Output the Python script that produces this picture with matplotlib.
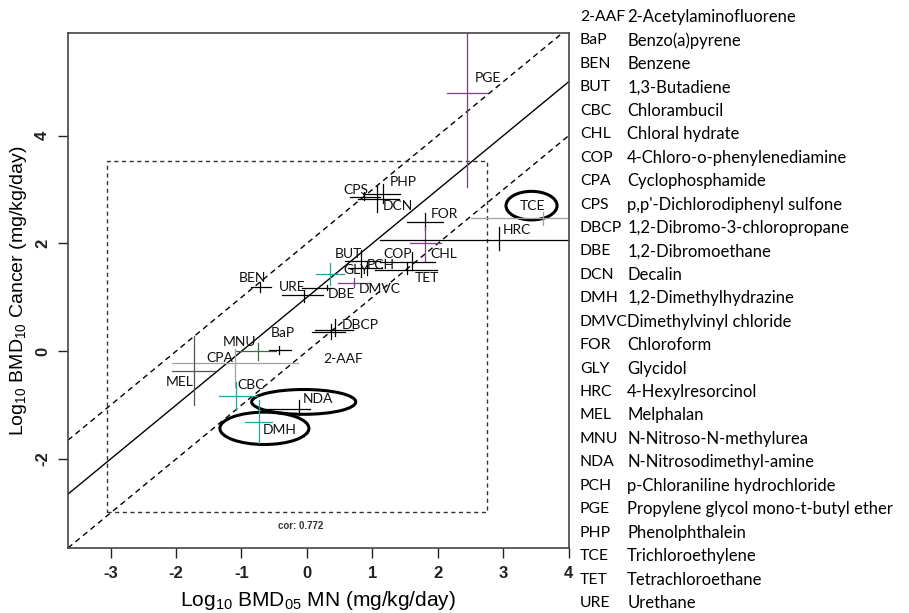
import numpy as np
import matplotlib
matplotlib.use("Agg")
import matplotlib.pyplot as plt
from matplotlib.patches import Ellipse

plt.rcParams['mathtext.fontset'] = 'custom'
plt.rcParams['mathtext.rm'] = 'Liberation Sans'
plt.rcParams['mathtext.it'] = 'Liberation Sans:italic'

# chemicals: centre, then lower/upper bounds on each axis (log10 mg/kg/day)
abbr = ["PGE", "CPS", "PHP", "DCN", "FOR", "CHL", "HRC", "TCE", "COP", "TET",
        "BUT", "PCH", "GLY", "DMVC", "BEN", "URE", "DBE", "DBCP", "2-AAF",
        "MNU", "BaP", "CPA", "MEL", "CBC", "NDA", "DMH"]
mn = [2.45, 0.87, 1.16, 1.07, 1.80, 1.81, 2.93, 3.61, 1.61, 1.53,
      0.83, 0.92, 0.35, 0.72, -0.71, -0.05, 0.30, 0.43, 0.36,
      -0.75, -0.42, -1.10, -1.73, -1.09, -0.12, -0.74]
mn_lo = [2.14, 0.66, 0.85, 0.78, 1.53, 1.58, 1.12, 2.50, 1.12, 1.04,
         0.58, 0.62, 0.14, 0.48, -0.86, -0.38, -0.08, 0.12, 0.08,
         -1.08, -0.58, -2.06, -2.06, -1.35, -0.75, -0.94]
mn_hi = [2.75, 1.12, 1.42, 1.40, 2.08, 2.04, 4.50, 4.50, 1.96, 1.98,
         1.12, 1.15, 0.56, 0.97, -0.55, 0.25, 0.40, 0.70, 0.58,
         -0.48, -0.24, -0.14, -1.40, -0.76, 0.05, -0.53]
cancer = [4.79, 2.86, 2.92, 2.82, 2.39, 2.00, 2.06, 2.47, 1.65, 1.51,
          1.67, 1.55, 1.43, 1.26, 1.19, 1.04, 1.18, 0.39, 0.35,
          0.00, 0.03, -0.21, -0.37, -0.83, -1.07, -1.32]
cancer_lo = [3.04, 2.80, 2.75, 2.58, 2.24, 1.68, 1.87, 2.35, 1.50, 1.44,
             1.38, 1.42, 1.22, 1.19, 1.10, 0.91, 1.13, 0.28, 0.22,
             -0.17, -0.05, -0.67, -1.00, -1.09, -1.19, -1.70]
cancer_hi = [6.60, 2.95, 3.11, 3.07, 2.56, 2.30, 2.30, 2.58, 1.84, 1.63,
             1.87, 1.68, 1.64, 1.35, 1.28, 1.13, 1.23, 0.60, 0.50,
             0.15, 0.10, 0.05, 0.28, -0.57, -0.91, -0.91]
correlation = 0.772

legend_abbr = ["2-AAF", "BaP", "BEN", "BUT", "CBC", "CHL", "COP", "CPA", "CPS",
               "DBCP", "DBE", "DCN", "DMH", "DMVC", "FOR", "GLY", "HRC", "MEL",
               "MNU", "NDA", "PCH", "PGE", "PHP", "TCE", "TET", "URE"]
legend_name = ["2-Acetylaminofluorene", "Benzo(a)pyrene", "Benzene", "1,3-Butadiene",
               "Chlorambucil", "Chloral hydrate", "4-Chloro-o-phenylenediamine",
               "Cyclophosphamide", "p,p'-Dichlorodiphenyl sulfone",
               "1,2-Dibromo-3-chloropropane", "1,2-Dibromoethane", "Decalin",
               "1,2-Dimethylhydrazine", "Dimethylvinyl chloride", "Chloroform",
               "Glycidol", "4-Hexylresorcinol", "Melphalan", "N-Nitroso-N-methylurea",
               "N-Nitrosodimethyl-amine", "p-Chloraniline hydrochloride",
               "Propylene glycol mono-t-butyl ether", "Phenolphthalein",
               "Trichloroethylene", "Tetrachloroethane", "Urethane"]

# styling / placement (not data)
purple, teal, grey, green = "#7a3f86", "#1fa5a5", "#a3a3a3", "#3d6b45"
cross_color = {"PGE": purple, "CHL": purple, "DMVC": purple, "GLY": teal,
               "CBC": teal, "DMH": teal, "TCE": grey, "CPA": grey,
               "MNU": green, "MEL": "#555555"}
label_pos = {"PGE": (2.57, 5.07), "CPS": (0.55, 2.99), "PHP": (1.27, 3.14),
             "DCN": (1.16, 2.70), "FOR": (1.89, 2.55), "TCE": (3.25, 2.70),
             "HRC": (2.99, 2.24), "CHL": (1.89, 1.80), "COP": (1.16, 1.80),
             "BUT": (0.42, 1.80), "PCH": (0.91, 1.59), "GLY": (0.55, 1.50),
             "TET": (1.64, 1.36), "BEN": (-1.04, 1.36), "URE": (-0.43, 1.20),
             "DBE": (0.31, 1.06), "DMVC": (0.79, 1.16), "DBCP": (0.53, 0.48),
             "BaP": (-0.56, 0.33), "MNU": (-1.28, 0.17), "CPA": (-1.54, -0.12),
             "2-AAF": (0.25, -0.15), "MEL": (-2.15, -0.57), "CBC": (-1.07, -0.63),
             "NDA": (-0.07, -0.88), "DMH": (-0.68, -1.46)}
# highlighted chemicals: centre x, centre y, width, height
rings = [(3.43, 2.70, 0.78, 0.53), (-0.05, -0.94, 1.59, 0.46), (-0.65, -1.43, 1.36, 0.60)]

fig = plt.figure(figsize=(9.09, 6.13), dpi=100)
ax = fig.add_axes([0.0748, 0.106, 0.551, 0.840])
xlim = (-3.65, 4.0)
ylim = (-3.65, 5.9)
ax.set_xlim(xlim)
ax.set_ylim(ylim)

xs = np.array(xlim)
ax.plot(xs, xs + 1, color="black", lw=1.0)
ax.plot(xs, xs + 2, color="black", lw=1.0, ls=(0, (4, 3)))
ax.plot(xs, xs, color="black", lw=1.0, ls=(0, (4, 3)))

# dashed box around the observed data range
ax.plot([-3.05, 2.75, 2.75, -3.05, -3.05], [-2.98, -2.98, 3.52, 3.52, -2.98],
        color="#333333", lw=1.0, ls=(0, (3, 2.5)))
ax.text(-0.1, -3.25, "cor: %.3f" % correlation, ha="center", va="center",
        fontsize=7, fontweight="bold", color="#333333", family="Liberation Sans")

for i, name in enumerate(abbr):
    c = cross_color.get(name, "black")
    ax.plot([mn_lo[i], mn_hi[i]], [cancer[i], cancer[i]], color=c, lw=0.9)
    ax.plot([mn[i], mn[i]], [cancer_lo[i], cancer_hi[i]], color=c, lw=0.9)
    lx, ly = label_pos[name]
    ax.text(lx, ly, name, ha="left", va="center", fontsize=10, family="Lato",
            color="#111111")

for cx, cy, w, h in rings:
    ax.add_patch(Ellipse((cx, cy), w, h, fill=False, ec="black", lw=2.2))

ax.set_xticks(range(-3, 5))
ax.set_yticks([-2, 0, 2, 4])
ax.set_xticklabels([str(v) for v in range(-3, 5)], family="Liberation Sans",
                   fontsize=12, fontweight="bold")
ax.set_yticklabels(["-2", "0", "2", "4"], family="Liberation Sans", fontsize=12,
                   fontweight="bold", rotation=90, va="center")
ax.tick_params(direction="out", length=7, width=1, colors="#222222", pad=6)
for s in ax.spines.values():
    s.set_color("#444444")
    s.set_linewidth(1.2)

ax.set_xlabel(r"Log$_{10}$ BMD$_{05}$ MN (mg/kg/day)", family="Liberation Sans",
              fontsize=15, labelpad=6)
ax.set_ylabel(r"Log$_{10}$ BMD$_{10}$ Cancer (mg/kg/day)", family="Liberation Sans",
              fontsize=14, labelpad=4)

top, bottom = 1 - 17 / 613, 1 - 603 / 613
ys = np.linspace(top, bottom, len(legend_abbr))
for a, n, y in zip(legend_abbr, legend_name, ys):
    fig.text(0.638, y, a, ha="left", va="center", fontsize=11.3, family="Lato")
    fig.text(0.690, y, n, ha="left", va="center", fontsize=12, family="Lato")

fig.savefig("out.png", dpi=100)
